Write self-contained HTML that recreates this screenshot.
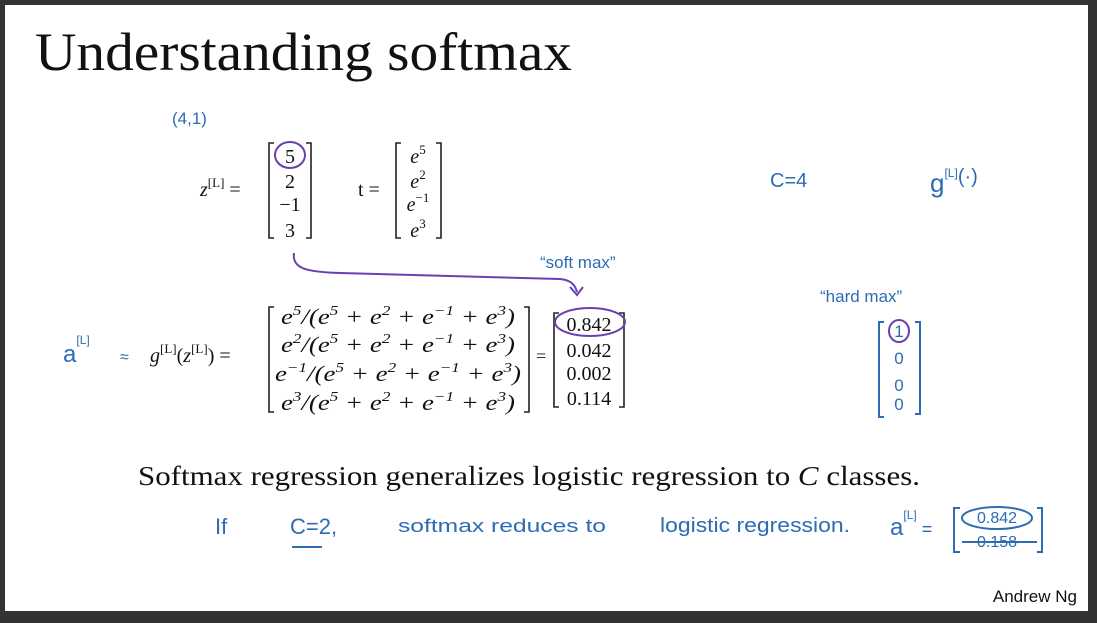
<!DOCTYPE html>
<html><head><meta charset="utf-8"><style>
html,body{margin:0;padding:0;background:#333;}
svg{display:block}
.s{font-family:"Liberation Serif",serif;fill:#111}
.h{font-family:"Liberation Sans",sans-serif;fill:#2c6cb5}
.p{fill:none;stroke:#6a3fb0;stroke-width:2}
.b{fill:none;stroke:#222;stroke-width:1.6}
.hb{fill:none;stroke:#2c6cb5;stroke-width:2}
</style></head><body>
<svg width="1097" height="623" viewBox="0 0 1097 623">
<rect x="0" y="0" width="1097" height="623" fill="#333"/>
<rect x="5" y="5" width="1083" height="606" fill="#fff"/>
<text class="s" x="35" y="70" font-size="54" textLength="537" lengthAdjust="spacingAndGlyphs">Understanding softmax</text>
<text class="h" x="172" y="124" font-size="17">(4,1)</text>

<g>
<text class="s" x="200" y="196" font-size="20" font-style="italic">z<tspan font-size="13" dy="-9" font-style="normal">[L]</tspan><tspan dy="9" font-style="normal"> =</tspan></text>
<path class="b" d="M274,143 h-5 v95 h5 M306,143 h5 v95 h-5"/>
<text class="s" x="290" y="163" font-size="20" text-anchor="middle">5</text>
<text class="s" x="290" y="188" font-size="20" text-anchor="middle">2</text>
<text class="s" x="290" y="211" font-size="20" text-anchor="middle">−1</text>
<text class="s" x="290" y="237" font-size="20" text-anchor="middle">3</text>
<ellipse class="p" cx="290" cy="155" rx="15" ry="13"/>
</g>

<g>
<text class="s" x="358" y="196" font-size="20">t =</text>
<path class="b" d="M401,143 h-5 v95 h5 M436,143 h5 v95 h-5"/>
<text class="s" x="418" y="163" font-size="20" text-anchor="middle" font-style="italic">e<tspan font-size="13" dy="-9" font-style="normal">5</tspan></text>
<text class="s" x="418" y="188" font-size="20" text-anchor="middle" font-style="italic">e<tspan font-size="13" dy="-9" font-style="normal">2</tspan></text>
<text class="s" x="418" y="211" font-size="20" text-anchor="middle" font-style="italic">e<tspan font-size="13" dy="-9" font-style="normal">−1</tspan></text>
<text class="s" x="418" y="237" font-size="20" text-anchor="middle" font-style="italic">e<tspan font-size="13" dy="-9" font-style="normal">3</tspan></text>
</g>

<path class="p" d="M294,253 C292,268 305,272 340,273 L560,279 C570,280 575,284 577,292 M570,287 L577,295 L583,287"/>
<text class="h" x="540" y="268" font-size="17">“soft max”</text>

<text class="h" x="63" y="362" font-size="24">a<tspan font-size="12" dy="-18">[L]</tspan></text>
<text class="h" x="120" y="362" font-size="16">≈</text>

<g>
<text class="s" x="150" y="362" font-size="20" font-style="italic">g<tspan font-size="13" dy="-9" font-style="normal">[L]</tspan><tspan dy="9" font-style="normal">(</tspan>z<tspan font-size="13" dy="-9" font-style="normal">[L]</tspan><tspan dy="9" font-style="normal">) =</tspan></text>
<path class="b" d="M274,307 h-5 v105 h5 M524,307 h5 v105 h-5"/>
<g font-style="italic">
<text class="s" x="281" y="324" font-size="22" textLength="234" lengthAdjust="spacingAndGlyphs">e<tspan font-size="14" dy="-9">5</tspan><tspan dy="9">/(e</tspan><tspan font-size="14" dy="-9">5</tspan><tspan dy="9"> + e</tspan><tspan font-size="14" dy="-9">2</tspan><tspan dy="9"> + e</tspan><tspan font-size="14" dy="-9">−1</tspan><tspan dy="9"> + e</tspan><tspan font-size="14" dy="-9">3</tspan><tspan dy="9">)</tspan></text>
<text class="s" x="281" y="352" font-size="22" textLength="234" lengthAdjust="spacingAndGlyphs">e<tspan font-size="14" dy="-9">2</tspan><tspan dy="9">/(e</tspan><tspan font-size="14" dy="-9">5</tspan><tspan dy="9"> + e</tspan><tspan font-size="14" dy="-9">2</tspan><tspan dy="9"> + e</tspan><tspan font-size="14" dy="-9">−1</tspan><tspan dy="9"> + e</tspan><tspan font-size="14" dy="-9">3</tspan><tspan dy="9">)</tspan></text>
<text class="s" x="275" y="381" font-size="22" textLength="246" lengthAdjust="spacingAndGlyphs">e<tspan font-size="14" dy="-9">−1</tspan><tspan dy="9">/(e</tspan><tspan font-size="14" dy="-9">5</tspan><tspan dy="9"> + e</tspan><tspan font-size="14" dy="-9">2</tspan><tspan dy="9"> + e</tspan><tspan font-size="14" dy="-9">−1</tspan><tspan dy="9"> + e</tspan><tspan font-size="14" dy="-9">3</tspan><tspan dy="9">)</tspan></text>
<text class="s" x="281" y="410" font-size="22" textLength="234" lengthAdjust="spacingAndGlyphs">e<tspan font-size="14" dy="-9">3</tspan><tspan dy="9">/(e</tspan><tspan font-size="14" dy="-9">5</tspan><tspan dy="9"> + e</tspan><tspan font-size="14" dy="-9">2</tspan><tspan dy="9"> + e</tspan><tspan font-size="14" dy="-9">−1</tspan><tspan dy="9"> + e</tspan><tspan font-size="14" dy="-9">3</tspan><tspan dy="9">)</tspan></text>
</g>
<text class="s" x="536" y="362" font-size="18">=</text>
<path class="b" d="M559,313 h-5 v94 h5 M619,313 h5 v94 h-5"/>
<text class="s" x="589" y="331" font-size="20" text-anchor="middle">0.842</text>
<text class="s" x="589" y="357" font-size="20" text-anchor="middle">0.042</text>
<text class="s" x="589" y="380" font-size="20" text-anchor="middle">0.002</text>
<text class="s" x="589" y="405" font-size="20" text-anchor="middle">0.114</text>
<ellipse class="p" cx="590" cy="322" rx="35" ry="14"/>
</g>

<text class="h" x="770" y="187" font-size="20">C=4</text>
<text class="h" x="930" y="192" font-size="26">g<tspan font-size="12" dy="-15">[L]</tspan><tspan font-size="20" dy="6">(·)</tspan></text>
<text class="h" x="820" y="302" font-size="17">“hard max”</text>
<g>
<path class="hb" d="M884,322 h-5 v95 h5 M915,322 h5 v92 h-5"/>
<text class="h" x="899" y="337" font-size="17" text-anchor="middle">1</text>
<ellipse class="p" cx="899" cy="331" rx="10" ry="11"/>
<text class="h" x="899" y="364" font-size="17" text-anchor="middle">0</text>
<text class="h" x="899" y="391" font-size="17" text-anchor="middle">0</text>
<text class="h" x="899" y="410" font-size="17" text-anchor="middle">0</text>
</g>

<text class="s" x="138" y="485" font-size="27" textLength="782" lengthAdjust="spacingAndGlyphs">Softmax regression generalizes logistic regression to <tspan font-style="italic">C</tspan> classes.</text>
<g>
<text class="h" x="215" y="534" font-size="22">If</text>
<text class="h" x="290" y="534" font-size="22">C=2,</text>
<path class="hb" d="M292,547 h30"/>
<text class="h" x="398" y="532" font-size="18" textLength="208" lengthAdjust="spacingAndGlyphs">softmax reduces to</text>
<text class="h" x="660" y="532" font-size="20" textLength="190" lengthAdjust="spacingAndGlyphs">logistic regression.</text>
<text class="h" x="890" y="535" font-size="24">a<tspan font-size="12" dy="-16">[L]</tspan><tspan font-size="18" dy="16"> =</tspan></text>
<path class="hb" d="M960,508 h-6 v44 h6 M1037,508 h5 v44 h-5"/>
<text class="h" x="997" y="523" font-size="16" text-anchor="middle">0.842</text>
<ellipse class="hb" cx="997" cy="518" rx="35" ry="11"/>
<text class="h" x="997" y="547" font-size="16" text-anchor="middle">0.158</text>
<path class="hb" d="M962,542 h75"/>
</g>
<text x="1077" y="602" font-size="17" text-anchor="end" font-family="Liberation Sans, sans-serif" fill="#111">Andrew Ng</text>
</svg>
</body></html>
